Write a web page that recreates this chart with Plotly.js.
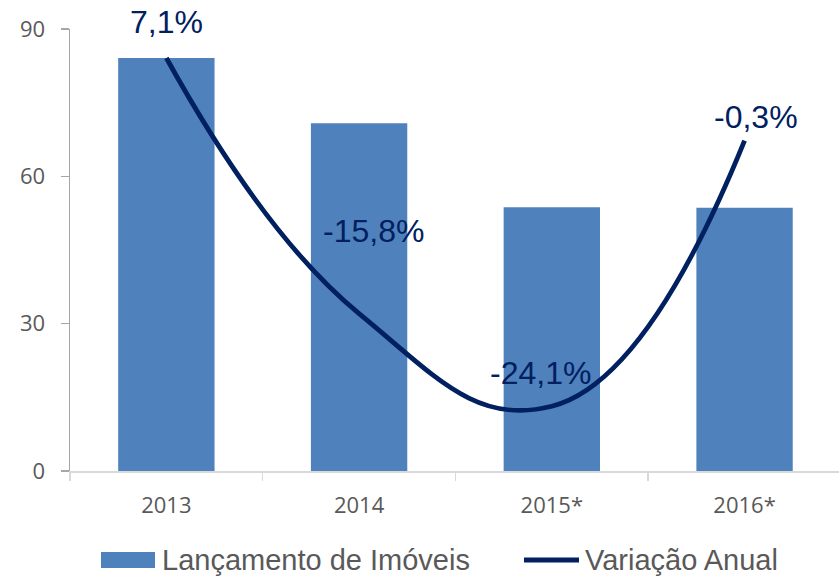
<!DOCTYPE html>
<html>
<head>
<meta charset="utf-8">
<script src="https://cdn.plot.ly/plotly-3.0.1.min.js"></script>
<style>
    html, body { margin: 0; padding: 0; background: #ffffff; }
    #myDiv { width: 839px; height: 576px; }
</style>
</head>
<body>
<div id="myDiv"></div>
<script>
/*global Plotly*/
'use strict';

// Values
var anos = ['2013', '2014', '2015*', '2016*'];
var lancamentos = [84.1, 70.8, 53.7, 53.6];
var variacao = [7.1, -15.8, -24.1, -0.3];
var variacaoTexto = ['7,1%', '-15,8%', '-24,1%', '-0,3%'];

// Nudges of the hand placed labels (pixels), as in the original
var labelDx = [0, 14, -11, 11];
var labelDy = [36, 83, 33, 24];

function drawChart(divName) {

    var i, barras, linha, data, layout, annotations, shapes,
        left = 70, right = 839, top = 29, bottom = 471;

    // paper coordinates from pixel positions, for the hand drawn legend
    function px(x) { return (x - left) / (right - left); }
    function py(y) { return (bottom - y) / (bottom - top); }

    barras = {
        x: anos,
        y: lancamentos,
        type: 'bar',
        name: 'Lançamento de Imóveis',
        marker: {color: '#4f81bd'},
        hoverinfo: 'y'
    };

    linha = {
        x: anos,
        y: variacao,
        type: 'scatter',
        mode: 'lines',
        name: 'Variação Anual',
        yaxis: 'y2',
        line: {color: '#002060', width: 4.8, shape: 'spline', smoothing: 1.3},
        hoverinfo: 'y'
    };

    data = [barras, linha];

    // data labels - x given as category index, '2013' as a string
    // gets read as a number otherwise
    annotations = [];
    for (i = 0; i < anos.length; i += 1) {
        annotations.push({
            x: i,
            y: variacao[i],
            xref: 'x',
            yref: 'y2',
            text: variacaoTexto[i],
            showarrow: false,
            xanchor: 'center',
            yanchor: 'middle',
            xshift: labelDx[i],
            yshift: labelDy[i],
            font: {family: 'Liberation Sans, Arial, sans-serif', size: 32, color: '#002060'}
        });
    }

    // legend texts
    annotations.push({
        x: px(160), y: py(560), xref: 'paper', yref: 'paper',
        text: 'Lançamento de Imóveis', showarrow: false,
        xanchor: 'left', yanchor: 'middle',
        font: {family: 'Liberation Sans, Arial, sans-serif', size: 29, color: '#595959'}
    });
    annotations.push({
        x: px(583), y: py(560), xref: 'paper', yref: 'paper',
        text: 'Variação Anual', showarrow: false,
        xanchor: 'left', yanchor: 'middle',
        font: {family: 'Liberation Sans, Arial, sans-serif', size: 29, color: '#595959'}
    });

    // legend symbols
    shapes = [
        {
            type: 'rect', xref: 'paper', yref: 'paper',
            x0: px(101), x1: px(155), y0: py(568), y1: py(552),
            fillcolor: '#4f81bd', line: {width: 0}
        },
        {
            type: 'line', xref: 'paper', yref: 'paper',
            x0: px(524), x1: px(579), y0: py(560), y1: py(560),
            line: {color: '#002060', width: 5}
        }
    ];

    layout = {
        width: 839,
        height: 576,
        margin: {l: left, r: 839 - right, t: top, b: 576 - bottom},
        paper_bgcolor: '#ffffff',
        plot_bgcolor: '#ffffff',
        showlegend: false,
        bargap: 0.5,
        font: {family: 'Open Sans, sans-serif', color: '#595959'},

        xaxis: {
            type: 'category',
            range: [-0.5, 3.49],
            showgrid: false,
            zeroline: false,
            showline: true,
            linecolor: '#d9d9d9',
            linewidth: 1.5,
            ticks: 'outside',
            tickson: 'boundaries',
            ticklen: 8,
            tickcolor: '#d9d9d9',
            tickwidth: 1.5,
            ticklabelstandoff: 14,
            tickfont: {family: 'Open Sans, sans-serif', size: 22, color: '#595959'}
        },

        yaxis: {
            range: [0, 90],
            tickvals: [0, 30, 60, 90],
            showgrid: false,
            zeroline: false,
            showline: true,
            linecolor: '#a6a6a6',
            linewidth: 1.5,
            ticks: 'outside',
            ticklen: 8,
            tickcolor: '#a6a6a6',
            tickwidth: 1.5,
            ticklabelstandoff: 11,
            tickfont: {family: 'Open Sans, sans-serif', size: 22, color: '#595959'}
        },

        // hidden axis for the yearly change line
        yaxis2: {
            overlaying: 'y',
            side: 'right',
            range: [-29.9, 9.7],
            visible: false
        },

        annotations: annotations,
        shapes: shapes
    };

    Plotly.newPlot(divName, data, layout, {displayModeBar: false, staticPlot: true});
}

drawChart('myDiv');
</script>
</body>
</html>
